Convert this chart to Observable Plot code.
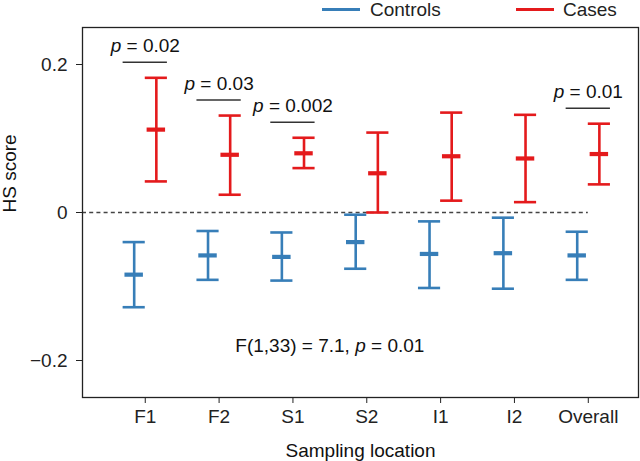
<!DOCTYPE html>
<html>
<head>
<meta charset="utf-8">
<script src="https://cdn.jsdelivr.net/npm/d3@7"></script>
<script src="https://cdn.jsdelivr.net/npm/@observablehq/plot@0.6"></script>
<style>
  html, body { margin: 0; padding: 0; background: #fff; }
  body { width: 640px; height: 461px; overflow: hidden; font-family: "Liberation Sans", Arial, sans-serif; color: #222; }
  #legend { position: relative; height: 18px; font-size: 19px; }
  #legend .sw { position: absolute; top: 8px; width: 38px; height: 3px; }
  #legend .lb { position: absolute; top: -1px; line-height: 22px; white-space: nowrap; }
</style>
</head>
<body>
<div id="legend"></div>
<div id="chart"></div>
<script>
// ---- data ----
const categories = ["F1", "F2", "S1", "S2", "I1", "I2", "Overall"];
const groups = ["Controls", "Cases"];
const groupColors = ["#377eb8", "#e41a1c"];

const controlsMean = [-0.084, -0.058, -0.060, -0.040, -0.056, -0.055, -0.058];
const controlsLow  = [-0.128, -0.091, -0.092, -0.076, -0.102, -0.103, -0.091];
const controlsHigh = [-0.040, -0.025, -0.027, -0.003, -0.012, -0.007, -0.026];

const casesMean = [0.112, 0.078, 0.080, 0.053, 0.076, 0.073, 0.079];
const casesLow  = [0.042, 0.024, 0.060, 0.000, 0.016, 0.014, 0.038];
const casesHigh = [0.182, 0.131, 0.101, 0.108, 0.135, 0.132, 0.120];

const pCategories = ["F1", "F2", "S1", "Overall"];
const pTexts = ["p = 0.02", "p = 0.03", "p = 0.002", "p = 0.01"];

const statText = "F(1,33) = 7.1, p = 0.01";
const statPos = [2.5, -0.18];

const yTicks = [-0.2, 0, 0.2];
const xLabel = "Sampling location";
const yLabel = "HS score";

// ---- build tables ----
const rows = [];
categories.forEach((c, i) => {
  rows.push({group: "Controls", i, mean: controlsMean[i], low: controlsLow[i], high: controlsHigh[i]});
  rows.push({group: "Cases", i, mean: casesMean[i], low: casesLow[i], high: casesHigh[i]});
});
const off = {Controls: -0.15, Cases: 0.15};
const px = d => d.i + off[d.group];

const pRows = pCategories.map((c, k) => {
  const i = categories.indexOf(c);
  return {i, text: pTexts[k], y: casesHigh[i] + 0.021};
});

// ---- legend ----
const legend = document.getElementById("legend");
const legendPos = [[322, 370], [516, 563]];
groups.forEach((g, k) => {
  const sw = document.createElement("span");
  sw.className = "sw";
  sw.style.left = legendPos[k][0] + "px";
  sw.style.background = groupColors[k];
  legend.appendChild(sw);
  const lb = document.createElement("span");
  lb.className = "lb";
  lb.style.left = legendPos[k][1] + "px";
  lb.textContent = g;
  legend.appendChild(lb);
});

// ---- chart ----
const barWidth = 2.6;
const chart = Plot.plot({
  width: 640,
  height: 443,
  marginLeft: 82,
  marginRight: 2,
  marginTop: 9,
  marginBottom: 64,
  style: {fontFamily: "'Liberation Sans', Arial, sans-serif", fontSize: "19px", color: "#222", background: "#fff"},
  x: {type: "linear", domain: [-0.85, 6.68]},
  y: {domain: [-0.25, 0.25]},
  color: {domain: groups, range: groupColors},
  marks: [
    Plot.ruleY([0], {x1: -0.85, x2: 6, stroke: "#444", strokeWidth: 1.3, strokeDasharray: "4,3.2"}),
    Plot.ruleX(rows, {x: px, y1: "low", y2: "high", stroke: "group", strokeWidth: barWidth}),
    Plot.ruleY(rows, {y: "high", x1: d => px(d) - 0.15, x2: d => px(d) + 0.15, stroke: "group", strokeWidth: barWidth}),
    Plot.ruleY(rows, {y: "low", x1: d => px(d) - 0.15, x2: d => px(d) + 0.15, stroke: "group", strokeWidth: barWidth}),
    Plot.ruleY(rows, {y: "mean", x1: d => px(d) - 0.125, x2: d => px(d) + 0.125, stroke: "group", strokeWidth: 4.2}),
    Plot.ruleY(pRows, {y: "y", x1: d => d.i - 0.3, x2: d => d.i + 0.3, stroke: "#333", strokeWidth: 1.5}),
    Plot.text(pRows, {x: "i", y: "y", text: "text", dy: -16, lineAnchor: "middle", fill: "#111"}),
    Plot.text([statText], {x: statPos[0], y: statPos[1], text: d => d, lineAnchor: "middle", fill: "#111"}),
    Plot.axisX({ticks: categories.map((c, i) => i), tickFormat: i => categories[i], tickSize: 6, tickPadding: 6, label: null}),
    Plot.axisY({ticks: yTicks, tickFormat: d => d === 0 ? "0" : d3.format(".1f")(d), tickSize: 6, tickPadding: 9, label: null}),
    Plot.text([xLabel], {frameAnchor: "bottom", dy: 59, lineAnchor: "bottom", text: d => d, fill: "#111"}),
    Plot.text([yLabel], {frameAnchor: "left", dx: -73, rotate: -90, text: d => d, fill: "#111"}),
    Plot.frame({stroke: "#222", strokeWidth: 1.3})
  ]
});
document.getElementById("chart").appendChild(chart);

// italic "p" in annotation texts
chart.querySelectorAll("text").forEach(t => {
  if (t.querySelector("tspan")) return;
  const s = t.textContent;
  const k = s.lastIndexOf("p = ");
  if (k < 0) return;
  t.textContent = "";
  if (k > 0) t.appendChild(document.createTextNode(s.slice(0, k)));
  const ts = document.createElementNS("http://www.w3.org/2000/svg", "tspan");
  ts.setAttribute("font-style", "italic");
  ts.textContent = "p";
  t.appendChild(ts);
  t.appendChild(document.createTextNode(s.slice(k + 1)));
});
</script>
</body>
</html>
